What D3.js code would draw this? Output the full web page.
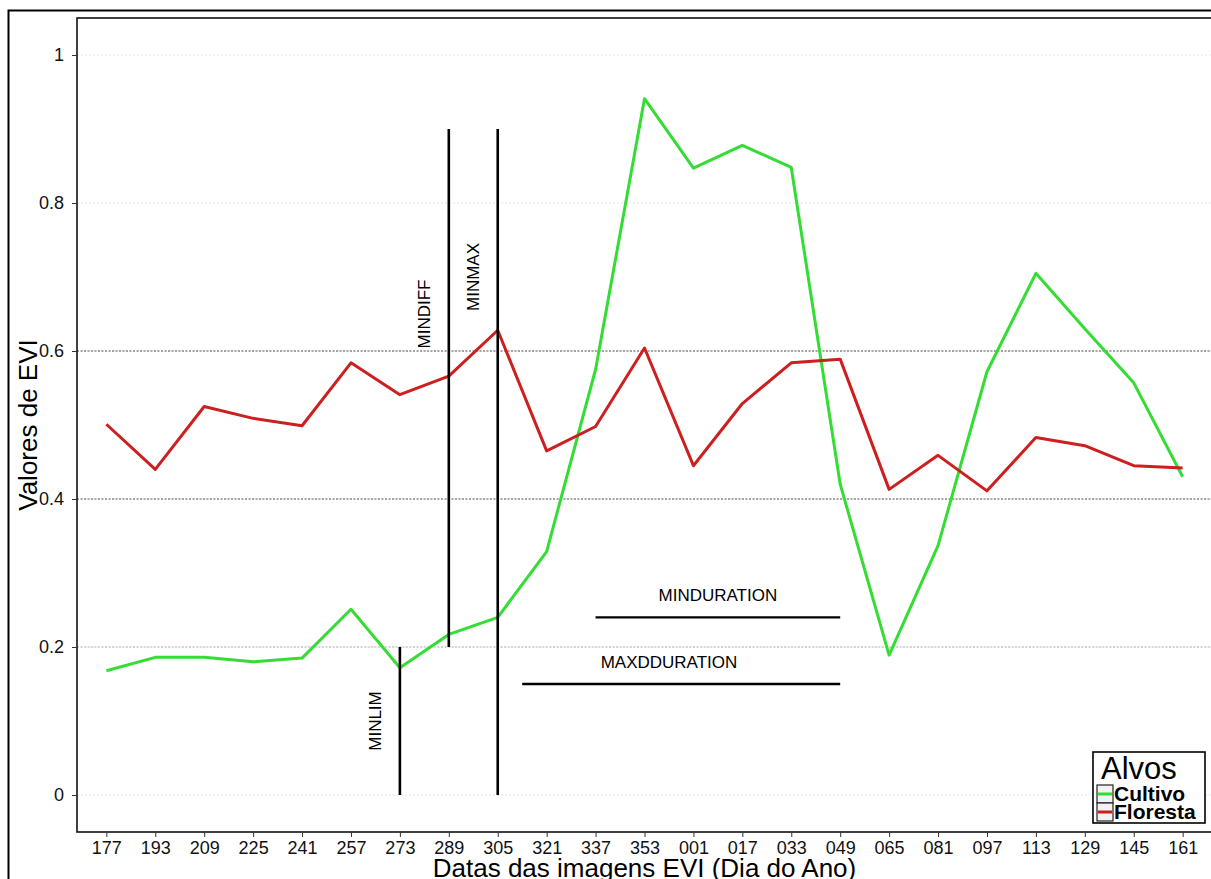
<!DOCTYPE html>
<html>
<head>
<meta charset="utf-8">
<script src="https://cdn.jsdelivr.net/npm/d3@7/dist/d3.min.js"></script>
<style>
  html, body { margin: 0; padding: 0; background: #fff; }
  svg { display: block; }
  text { font-family: "Liberation Sans", Arial, sans-serif; }
</style>
</head>
<body>
<svg id="chart" width="1211" height="879"></svg>
<script>
// Image dates (day of year), in acquisition order
const dates = ["177","193","209","225","241","257","273","289","305","321","337","353",
               "001","017","033","049","065","081","097","113","129","145","161"];

// EVI per target class
const cultivo  = [0.168,0.186,0.186,0.180,0.185,0.251,0.172,0.217,0.240,0.329,0.575,0.941,
                  0.847,0.878,0.848,0.420,0.189,0.337,0.572,0.705,0.630,0.557,0.430];
const floresta = [0.501,0.440,0.525,0.509,0.499,0.584,0.541,0.566,0.628,0.465,0.498,0.604,
                  0.445,0.529,0.584,0.589,0.413,0.459,0.411,0.483,0.472,0.445,0.442];

const seriesNames  = ["Cultivo", "Floresta"];
const seriesColors = ["#33dd33", "#cd1f1f"];

const yTicks = [0, 0.2, 0.4, 0.6, 0.8, 1];
const yTickLabels = ["0", "0.2", "0.4", "0.6", "0.8", "1"];
const refLevels = [0.2, 0.4, 0.6];

// Threshold markers (positions in category index / EVI units)
const vMarks = [
  { at: 6, y0: 0,   y1: 0.2 },   // MINLIM
  { at: 7, y0: 0.2, y1: 0.9 },   // MINDIFF
  { at: 8, y0: 0,   y1: 0.9 }    // MINMAX
];
const hMarks = [
  { from: 10,  to: 15, y: 0.24 }, // MINDURATION
  { from: 8.5, to: 15, y: 0.15 }  // MAXDDURATION
];
const markLabels = [
  { text: "MINLIM",       at: 5.5,  y: 0.10, rot: true },
  { text: "MINDIFF",      at: 6.5,  y: 0.65, rot: true },
  { text: "MINMAX",       at: 7.5,  y: 0.70, rot: true },
  { text: "MINDURATION",  at: 12.5, y: 0.27, rot: false },
  { text: "MAXDDURATION", at: 11.5, y: 0.18, rot: false }
];

const svg = d3.select("#chart");
const W = 1211, H = 879;
const panel = { left: 77, top: 18, right: 1212, bottom: 832 };

const x = d3.scalePoint().domain(dates).range([panel.left, panel.right]).padding(0.6);
const xi = i => x(dates[0]) + i * x.step();
const y = d3.scaleLinear().domain([-0.05, 1.05]).range([panel.bottom, panel.top]);

// outer frame
svg.append("path")
  .attr("d", `M8.5,${H + 2} V10.5 H${W + 2}`)
  .attr("fill", "none").attr("stroke", "#000").attr("stroke-width", 2);

// panel clip
svg.append("clipPath").attr("id", "pclip")
  .append("rect").attr("x", panel.left).attr("y", panel.top)
  .attr("width", panel.right - panel.left).attr("height", panel.bottom - panel.top);

const g = svg.append("g").attr("clip-path", "url(#pclip)");

// grid
g.selectAll("line.grid").data(yTicks).join("line")
  .attr("class", "grid")
  .attr("x1", panel.left).attr("x2", panel.right)
  .attr("y1", d => y(d)).attr("y2", d => y(d))
  .attr("stroke", "#e4e4e4").attr("stroke-width", 1).attr("stroke-dasharray", "2,2");

// reference levels
g.selectAll("line.ref").data(refLevels).join("line")
  .attr("class", "ref")
  .attr("x1", panel.left).attr("x2", panel.right)
  .attr("y1", d => y(d)).attr("y2", d => y(d))
  .attr("stroke", d => d === 0.2 ? "#b4b4b4" : "#555")
  .attr("stroke-width", 1).attr("stroke-dasharray", "2,1.5");

// series lines
const line = d3.line().x((d, i) => x(dates[i])).y(d => y(d));
[cultivo, floresta].forEach((vals, k) => {
  g.append("path").datum(vals)
    .attr("d", line)
    .attr("fill", "none")
    .attr("stroke", seriesColors[k])
    .attr("stroke-width", 3)
    .attr("stroke-linejoin", "round");
});

// threshold markers
g.selectAll("line.vmark").data(vMarks).join("line")
  .attr("class", "vmark")
  .attr("x1", d => xi(d.at)).attr("x2", d => xi(d.at))
  .attr("y1", d => y(d.y0)).attr("y2", d => y(d.y1))
  .attr("stroke", "#000").attr("stroke-width", 2.6);

g.selectAll("line.hmark").data(hMarks).join("line")
  .attr("class", "hmark")
  .attr("x1", d => xi(d.from)).attr("x2", d => xi(d.to))
  .attr("y1", d => y(d.y)).attr("y2", d => y(d.y))
  .attr("stroke", "#000").attr("stroke-width", 2.4);

g.selectAll("text.mlab").data(markLabels).join("text")
  .attr("class", "mlab")
  .attr("transform", d => `translate(${xi(d.at)},${y(d.y)})` + (d.rot ? " rotate(-90)" : ""))
  .attr("text-anchor", "middle")
  .attr("dy", "0.35em")
  .attr("font-size", 17)
  .attr("fill", "#000")
  .text(d => d.text);

// panel border
svg.append("rect")
  .attr("x", panel.left).attr("y", panel.top)
  .attr("width", panel.right - panel.left).attr("height", panel.bottom - panel.top)
  .attr("fill", "none").attr("stroke", "#111").attr("stroke-width", 1.6);

// y axis
const yAxis = d3.axisLeft(y).tickValues(yTicks).tickSize(5).tickPadding(8)
  .tickFormat((d, i) => yTickLabels[i]);
const ya = svg.append("g").attr("transform", `translate(${panel.left},0)`).call(yAxis);
ya.select(".domain").remove();
ya.selectAll(".tick line").attr("stroke", "#333");
ya.selectAll(".tick text").attr("font-size", 18).attr("fill", "#111")
  .attr("font-family", "Liberation Sans, Arial, sans-serif");

// x axis
const xAxis = d3.axisBottom(x).tickSize(5).tickPadding(4);
const xa = svg.append("g").attr("transform", `translate(0,${panel.bottom})`).call(xAxis);
xa.select(".domain").remove();
xa.selectAll(".tick line").attr("stroke", "#333");
xa.selectAll(".tick text").attr("font-size", 18).attr("fill", "#111")
  .attr("font-family", "Liberation Sans, Arial, sans-serif");

// axis titles
svg.append("text")
  .attr("x", (panel.left + panel.right) / 2).attr("y", 877)
  .attr("text-anchor", "middle").attr("font-size", 26).attr("fill", "#000")
  .text("Datas das imagens EVI (Dia do Ano)");

svg.append("text")
  .attr("transform", `translate(37,${(panel.top + panel.bottom) / 2}) rotate(-90)`)
  .attr("text-anchor", "middle").attr("font-size", 26).attr("fill", "#000")
  .text("Valores de EVI");

// legend
const lg = svg.append("g").attr("transform", "translate(1093,752)");
lg.append("rect").attr("width", 112).attr("height", 71)
  .attr("fill", "#fff").attr("stroke", "#000").attr("stroke-width", 1.6);
lg.append("text").attr("x", 8).attr("y", 27).attr("font-size", 31).attr("fill", "#000").text("Alvos");
seriesNames.forEach((name, k) => {
  const row = lg.append("g").attr("transform", `translate(4,${33 + k * 18})`);
  row.append("rect").attr("width", 16).attr("height", 18)
    .attr("fill", "#f2f2f2").attr("stroke", "#222").attr("stroke-width", 1.2);
  row.append("line").attr("x1", 1).attr("x2", 15).attr("y1", 9).attr("y2", 9)
    .attr("stroke", seriesColors[k]).attr("stroke-width", 3);
  row.append("text").attr("x", 17).attr("y", 16).attr("font-size", 21)
    .attr("font-weight", "bold").attr("fill", "#000").text(name);
});
</script>
</body>
</html>
